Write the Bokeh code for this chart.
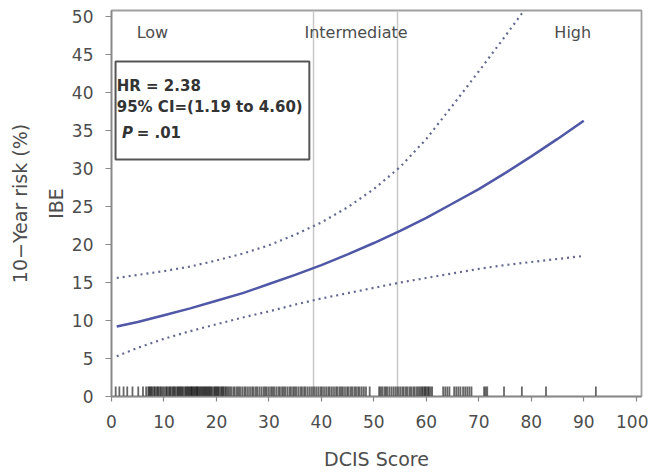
from bokeh.plotting import figure
from bokeh.models import (Range1d, LinearAxis, FixedTicker, BoxAnnotation, Span,
                          Label, ColumnDataSource)
from bokeh.embed import file_html
from bokeh.resources import INLINE

# ---- data ----
score = [1, 5, 10, 15, 20, 25, 30, 35, 40, 45, 50, 55, 60, 65, 70, 75, 80, 85, 90]
risk = [9.2, 9.8, 10.7, 11.6, 12.6, 13.6, 14.8, 16.0, 17.3, 18.7, 20.2, 21.8,
        23.5, 25.4, 27.3, 29.4, 31.6, 33.9, 36.3]
upper = [15.6, 16.0, 16.5, 17.1, 17.9, 18.8, 19.9, 21.3, 22.9, 24.9, 27.3, 30.2,
         33.9, 38.3, 42.8, 47.4, 52.1, 57.0, 62.0]
lower = [5.3, 6.4, 7.6, 8.6, 9.5, 10.4, 11.2, 12.1, 12.9, 13.6, 14.3, 15.0,
         15.6, 16.2, 16.8, 17.3, 17.7, 18.1, 18.5]

rug_scores = [0.8, 1.5, 2.3, 3.0, 4.0, 5.1, 6.0, 6.6,
              7.0, 7.2, 7.4, 7.6, 7.8, 8.1, 8.3, 8.6, 8.8, 9.0, 9.3, 9.5, 9.8, 10.1,
              10.4, 10.6, 10.9, 11.1, 11.3, 11.6, 11.8, 12.0, 12.2, 12.5, 12.7, 12.9,
              13.1, 13.3, 13.5, 13.7, 14.0, 14.2, 14.4, 14.6, 14.8, 15.0, 15.2, 15.3,
              15.5, 15.7, 15.9, 16.1, 16.3, 16.4, 16.6, 16.8, 17.0, 17.2, 17.4, 17.6,
              17.8, 18.0, 18.2, 18.4, 18.6, 18.8, 19.0, 19.2, 19.5, 19.7, 19.9, 20.1,
              20.3, 20.5, 20.8, 21.0, 21.2, 21.4, 21.7, 21.9, 22.2, 22.5, 22.8, 23.2,
              23.5, 23.9, 24.2, 24.5, 24.9, 25.3, 25.6, 26.0, 26.4, 26.8, 27.1, 27.5,
              27.8, 28.2, 28.6, 29.0, 29.3, 29.6, 30.0, 30.4, 30.7, 31.0, 31.4, 31.8,
              32.1, 32.5, 32.8, 33.1, 33.5, 33.9, 34.2, 34.6, 34.9, 35.2, 35.6, 36.0,
              36.3, 36.7, 37.0, 37.4, 37.8, 38.2, 38.6, 39.0, 39.4, 39.8, 40.1, 40.5,
              40.9, 41.3, 41.6, 42.0, 42.4, 42.8, 43.1, 43.5, 43.8, 44.1, 44.5, 44.9,
              45.2, 45.6, 45.9, 46.3, 46.6, 47.0, 47.3, 47.7, 48.1, 48.5, 49.2,
              51.0, 51.3, 51.6, 52.0, 52.3, 52.6, 53.0, 53.4, 53.8, 54.2, 54.6, 55.0,
              55.4, 55.7, 56.1, 56.4, 56.8, 57.1, 57.5, 57.8, 58.2, 58.5, 58.8, 59.1,
              59.3, 59.6, 59.8, 60.0, 60.3, 60.5, 60.8, 61.1,
              63.2, 63.6, 64.0, 64.4, 65.3, 65.7, 66.1, 66.5, 67.0, 67.4, 67.8, 68.2,
              68.6, 71.0, 71.3, 71.6, 74.8, 78.2, 82.8, 92.3]
rug_height = 1.3

cutoffs = [38.5, 54.5]
categories = ["Low", "Intermediate", "High"]
category_x = [7.8, 46.6, 87.9]
category_y = 47.9

x_ticks = [0, 10, 20, 30, 40, 50, 60, 70, 80, 90, 100]
y_ticks = [0, 5, 10, 15, 20, 25, 30, 35, 40, 45, 50]

stats_lines = ["HR = 2.38", "95% CI=(1.19 to 4.60)"]
p_value = "= .01"

FONT = "DejaVu Sans"
TXT = "#4d4d4d"
AX = "#888888"

p = figure(width=648, height=475, x_range=Range1d(0, 101), y_range=Range1d(0, 50.8),
           output_backend="svg", toolbar_location=None,
           min_border_left=111, min_border_top=10, min_border_right=7, min_border_bottom=79)
p.grid.visible = False
p.outline_line_color = "#a0a0a0"
p.outline_line_width = 1.8

# axes
for ax in (p.xaxis[0], p.yaxis[0]):
    ax.axis_line_color = AX
    ax.axis_line_width = 1.5
    ax.major_tick_line_color = AX
    ax.major_tick_line_width = 1.2
    ax.minor_tick_line_color = None
    ax.major_tick_in = 0
    ax.major_label_text_font = FONT
    ax.major_label_text_font_size = "17px"
    ax.major_label_text_color = TXT
    ax.axis_label_text_font = FONT
    ax.axis_label_text_font_size = "19px"
    ax.axis_label_text_font_style = "normal"
    ax.axis_label_text_color = TXT

p.xaxis.ticker = FixedTicker(ticks=x_ticks)
p.yaxis.ticker = FixedTicker(ticks=y_ticks)
p.xaxis.major_tick_out = 5
p.xaxis.major_label_standoff = 13
p.xaxis.axis_label = "DCIS Score"
p.xaxis.axis_label_standoff = 17
p.yaxis.major_tick_out = 6
p.yaxis.major_label_standoff = 12
p.yaxis.axis_label = "IBE"
p.yaxis.axis_label_standoff = 2

outer = LinearAxis(ticker=FixedTicker(ticks=[]), axis_label="10\u2212Year risk (%)",
                   axis_line_color=None, major_tick_line_color=None,
                   minor_tick_line_color=None, axis_label_standoff=11,
                   axis_label_text_font=FONT, axis_label_text_font_size="19px",
                   axis_label_text_font_style="normal", axis_label_text_color=TXT)
p.add_layout(outer, "left")

# cutoff lines
for c in cutoffs:
    p.add_layout(Span(location=c, dimension="height", line_color="#c8c8c8",
                      line_width=1.5, level="underlay"))

# rug
rug = ColumnDataSource(dict(x=rug_scores, y0=[0] * len(rug_scores),
                            y1=[rug_height] * len(rug_scores)))
p.segment(x0="x", y0="y0", x1="x", y1="y1", source=rug, line_color="black",
          line_alpha=0.6, line_width=1.8)

# curves
src = ColumnDataSource(dict(x=score, risk=risk, upper=upper, lower=lower))
p.line("x", "upper", source=src, line_color="#62688f", line_width=2.2, line_dash="2 4")
p.line("x", "lower", source=src, line_color="#62688f", line_width=2.2, line_dash="2 4")
p.line("x", "risk", source=src, line_color="#4f57a6", line_width=2.5)

# category labels
for name, cx in zip(categories, category_x):
    p.add_layout(Label(x=cx, y=category_y, text=name, text_align="center",
                       text_baseline="middle", text_font=FONT, text_font_size="16px",
                       text_color=TXT))

# stats box
p.add_layout(BoxAnnotation(left=0.77, right=37.7, bottom=31.2, top=44.1,
                           fill_color="white", fill_alpha=1.0,
                           line_color="#555555", line_width=2, line_alpha=1.0))
for txt, ty in zip(stats_lines, [40.8, 38.1]):
    p.add_layout(Label(x=1.0, y=ty, text=txt, text_baseline="middle", text_font=FONT,
                       text_font_size="15px", text_font_style="bold", text_color="#333333"))
p.add_layout(Label(x=2.0, y=34.7, text="P", text_baseline="middle", text_font=FONT,
                   text_font_size="15px", text_font_style="bold italic", text_color="#333333"))
p.add_layout(Label(x=4.8, y=34.7, text=p_value, text_baseline="middle", text_font=FONT,
                   text_font_size="15px", text_font_style="bold", text_color="#333333"))

open("out.html", "w").write(file_html(p, INLINE))
